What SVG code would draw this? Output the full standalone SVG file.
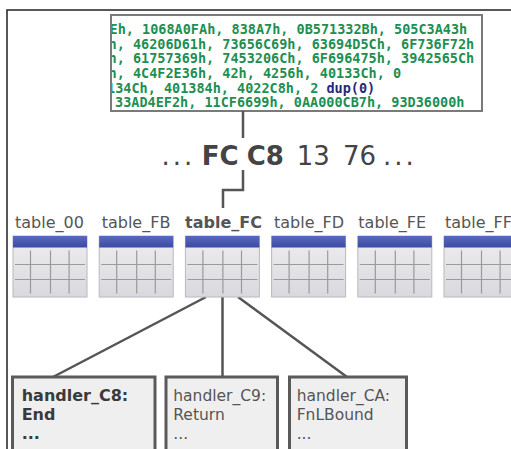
<svg xmlns="http://www.w3.org/2000/svg" xmlns:xlink="http://www.w3.org/1999/xlink" width="511" height="449" viewBox="0 0 511 449">
<style>
.code{font-family:"DejaVu Sans Mono","Liberation Mono",monospace;font-weight:bold;font-size:13.5px;fill:#1d8f52}
.navy{fill:#28287a}
.big{font-family:"DejaVu Sans",Verdana,sans-serif;font-size:26px;fill:#444}
.lbl{font-family:"DejaVu Sans",Verdana,sans-serif;font-size:16px;fill:#555}
.hb{font-family:"DejaVu Sans",Verdana,sans-serif;font-size:16px;font-weight:bold;fill:#3a3a3a}
.hn{font-family:"DejaVu Sans",Verdana,sans-serif;font-size:15.5px;fill:#555}
.conn{fill:none;stroke:#555;stroke-width:2.5}
.hbox{fill:#efefef;stroke:#5a5a5a;stroke-width:3}
.grid{stroke:#9a9a9a;stroke-width:1.2}
</style>
<defs>
<linearGradient id="hdr" x1="0" y1="0" x2="0" y2="1">
<stop offset="0" stop-color="#5a68c0"/>
<stop offset="1" stop-color="#3b4aa2"/>
</linearGradient>
<linearGradient id="body" x1="0" y1="0" x2="0" y2="1">
<stop offset="0" stop-color="#eeeef0"/>
<stop offset="1" stop-color="#d9d9dd"/>
</linearGradient>
<clipPath id="codeclip"><rect x="112" y="16" width="369" height="94"/></clipPath>
<g id="tbl">
<rect x="0.5" y="0.5" width="74" height="61" fill="url(#body)" stroke="#b8b8c0"/>
<rect x="0.5" y="0.5" width="74" height="11.5" fill="url(#hdr)"/>
<path class="grid" d="M18,15V58M38,15V58M56.6,15V58M2.5,29H72.5M2.5,44H72.5"/>
</g>
</defs>
<rect width="511" height="449" fill="#fff"/>
<path d="M7,455V10H520" fill="none" stroke="#222" stroke-width="1.5"/>

<g id="code">
<rect x="111" y="15" width="371" height="96" fill="#fff" stroke="#7a7a7a" stroke-width="2"/>
<g clip-path="url(#codeclip)" class="code">
<text x="109.6" y="34">Eh, 1068A0FAh, 838A7h, 0B571332Bh, 505C3A43h</text>
<text x="108.5" y="48.7">h, 46206D61h, 73656C69h, 63694D5Ch, 6F736F72h</text>
<text x="108.5" y="63.3">h, 61757369h, 7453206Ch, 6F696475h, 3942565Ch</text>
<text x="108.5" y="78">h, 4C4F2E36h, 42h, 4256h, 40133Ch, 0</text>
<text x="107" y="92.7">134Ch, 401384h, 4022C8h, 2 <tspan class="navy">dup(0)</tspan></text>
<text x="115" y="107.3">33AD4EF2h, 11CF6699h, 0AA000CB7h, 93D36000h</text>
</g>
</g>

<g id="bytes">
<text class="big" y="165"><tspan x="161.5" letter-spacing="3">...</tspan><tspan x="201.7" font-weight="bold">FC</tspan><tspan x="246.7" font-weight="bold">C8</tspan><tspan x="296.7">13</tspan><tspan x="343">76</tspan><tspan x="383" letter-spacing="3">...</tspan></text>
</g>

<g id="connectors">
<path class="conn" d="M243,111V138"/>
<path class="conn" d="M243,170V190H223V208"/>
<path class="conn" d="M206,297L53,377"/>
<path class="conn" d="M222.5,297V377"/>
<path class="conn" d="M238,297L347,377"/>
</g>

<g id="table_00"><text class="lbl" x="15" y="228">table_00</text><use xlink:href="#tbl" x="12.5" y="235.5"/></g>
<g id="table_FB"><text class="lbl" x="101.7" y="228">table_FB</text><use xlink:href="#tbl" x="98.7" y="235.5"/></g>
<g id="table_FC"><text class="lbl" x="185" y="228" font-weight="bold" fill="#3a3a3a">table_FC</text><use xlink:href="#tbl" x="184.9" y="235.5"/></g>
<g id="table_FD"><text class="lbl" x="274" y="228">table_FD</text><use xlink:href="#tbl" x="271.1" y="235.5"/></g>
<g id="table_FE"><text class="lbl" x="358.3" y="228">table_FE</text><use xlink:href="#tbl" x="357.3" y="235.5"/></g>
<g id="table_FF"><text class="lbl" x="445" y="228">table_FF</text><use xlink:href="#tbl" x="443.5" y="235.5"/></g>

<g id="handler_C8">
<rect class="hbox" x="12.5" y="377" width="142.5" height="80"/>
<text class="hb" x="21.7" y="400.7">handler_C8:</text>
<text class="hb" x="21.7" y="420">End</text>
<text class="hb" x="21.7" y="439">...</text>
</g>
<g id="handler_C9">
<rect class="hbox" x="166" y="377" width="111.5" height="80"/>
<text class="hn" x="173.3" y="400.7">handler_C9:</text>
<text class="hn" x="173.3" y="420">Return</text>
<text class="hn" x="173.3" y="439" fill="#888">...</text>
</g>
<g id="handler_CA">
<rect class="hbox" x="289.5" y="377" width="117" height="80"/>
<text class="hn" x="296.7" y="400.7">handler_CA:</text>
<text class="hn" x="296.7" y="420">FnLBound</text>
<text class="hn" x="296.7" y="439" fill="#888">...</text>
</g>
</svg>
